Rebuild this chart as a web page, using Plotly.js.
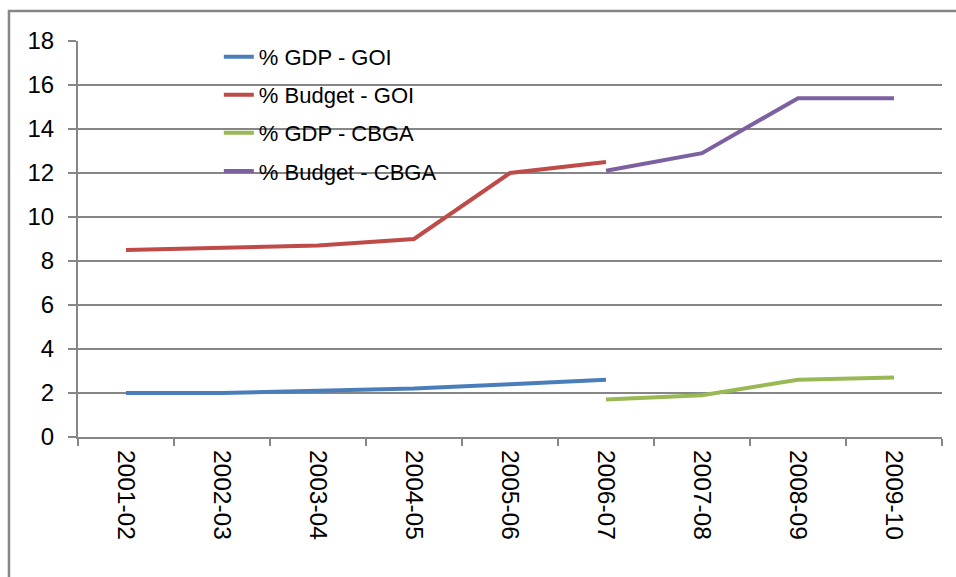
<!DOCTYPE html>
<html>
<head>
<meta charset="utf-8">
<script src="https://cdn.plot.ly/plotly-3.0.1.min.js"></script>
<style>
html,body{margin:0;padding:0;background:#fff;}
#chart{width:956px;height:577px;}
</style>
</head>
<body>
<div id="chart"></div>
<script>
const categories = ["2001-02","2002-03","2003-04","2004-05","2005-06","2006-07","2007-08","2008-09","2009-10"];
const gdpGOI = [2.0, 2.0, 2.1, 2.2, 2.4, 2.6, null, null, null];
const budgetGOI = [8.5, 8.6, 8.7, 9.0, 12.0, 12.5, null, null, null];
const gdpCBGA = [null, null, null, null, null, 1.7, 1.9, 2.6, 2.7];
const budgetCBGA = [null, null, null, null, null, 12.1, 12.9, 15.4, 15.4];
const seriesNames = ["% GDP - GOI", "% Budget - GOI", "% GDP - CBGA", "% Budget - CBGA"];
const yTicks = [0, 2, 4, 6, 8, 10, 12, 14, 16, 18];

const colors = ["#4a7ebb", "#be4b48", "#98b954", "#7d60a0"];
const allSeries = [gdpGOI, budgetGOI, gdpCBGA, budgetCBGA];

const traces = allSeries.map((vals, i) => ({
  type: "scatter",
  mode: "lines",
  x: categories,
  y: vals,
  name: seriesNames[i],
  legendgroup: "g" + i,
  connectgaps: false,
  line: {color: colors[i], width: 4},
  hoverinfo: "x+y+name"
}));

const font = {family: "Liberation Sans, Arial, sans-serif", color: "#000"};

const layout = {
  width: 956,
  height: 577,
  margin: {l: 78, r: 14, t: 41, b: 140},
  paper_bgcolor: "#fff",
  plot_bgcolor: "#fff",
  showlegend: true,
  font: font,
  legend: {
    x: 0.163, xanchor: "left",
    y: 1.013, yanchor: "top",
    bgcolor: "rgba(0,0,0,0)",
    font: {family: font.family, size: 22, color: "#000"},
    traceorder: "grouped",
    tracegroupgap: 6.5,
    itemwidth: 30
  },
  xaxis: {
    type: "category",
    range: [-0.5, 8.5],
    tickson: "boundaries",
    ticks: "outside",
    ticklen: 7,
    tickwidth: 1.5,
    tickcolor: "#868686",
    tickangle: 90,
    tickfont: {family: font.family, size: 24.5, color: "#000"},
    ticklabelstandoff: 6,
    showgrid: false,
    showline: true,
    linecolor: "#868686",
    linewidth: 2,
    zeroline: false,
    fixedrange: true
  },
  yaxis: {
    range: [0, 18],
    tickvals: yTicks,
    ticktext: yTicks.map(String),
    ticks: "outside",
    ticklen: 8,
    tickwidth: 1.5,
    tickcolor: "#868686",
    tickfont: {family: font.family, size: 24, color: "#000"},
    ticklabelstandoff: 9,
    showgrid: true,
    gridcolor: "#868686",
    gridwidth: 1.5,
    showline: true,
    linecolor: "#868686",
    linewidth: 2,
    zeroline: false,
    fixedrange: true
  },
  shapes: [{
    type: "rect", xref: "paper", yref: "paper",
    x0: -0.0799, x1: 1.2, y0: -0.6, y1: 1.0758,
    line: {color: "#868686", width: 2.5},
    fillcolor: "rgba(0,0,0,0)",
    layer: "below"
  }]
};

Plotly.newPlot("chart", traces, layout, {displayModeBar: false, staticPlot: true});
</script>
</body>
</html>
